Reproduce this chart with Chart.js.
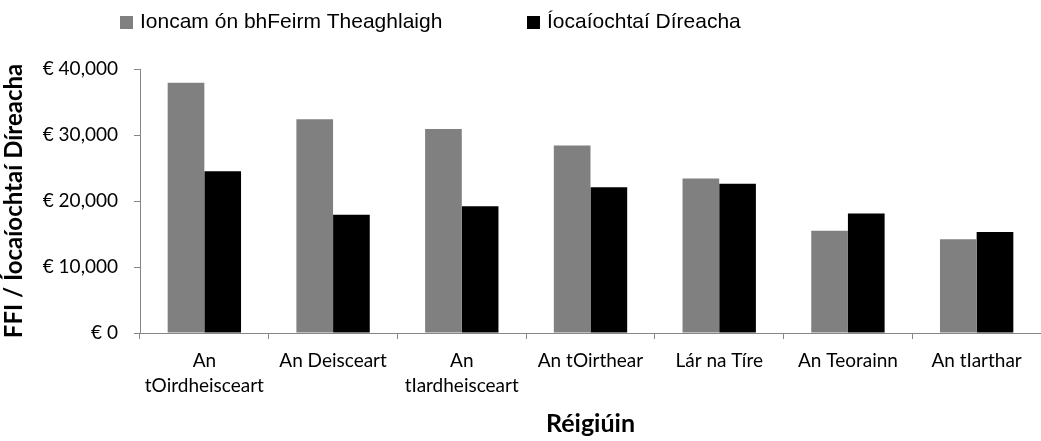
<!DOCTYPE html>
<html>
<head>
<meta charset="utf-8">
<script src="https://cdn.jsdelivr.net/npm/chart.js"></script>
<style>
  html, body { margin: 0; padding: 0; background: #fff; }
</style>
</head>
<body>
<canvas id="chart" width="1041" height="441"></canvas>
<script>
var regions = [['An', 'tOirdheisceart'], 'An Deisceart', ['An', 'tIardheisceart'], 'An tOirthear', 'Lár na Tíre', 'An Teorainn', 'An tIarthar'];
var ffi = [37900, 32400, 30900, 28400, 23400, 15500, 14200];
var directPayments = [24500, 17900, 19200, 22100, 22600, 18100, 15300];
var seriesNames = ['Ioncam ón bhFeirm Theaghlaigh', 'Íocaíochtaí Díreacha'];
var yTicks = [0, 10000, 20000, 30000, 40000];

var axisColor = '#868686';
var labelFont = { family: 'Lato', size: 19, lineHeight: 1.3 };

// legend drawn by hand so it can sit left of centre like the original
var topLegend = {
    id: 'topLegend',
    afterDraw: function (chart) {
        var ctx = chart.ctx;
        var xs = [120, 527];
        ctx.save();
        ctx.font = '21px "Liberation Sans"';
        ctx.textBaseline = 'middle';
        chart.data.datasets.forEach(function (ds, i) {
            ctx.fillStyle = ds.backgroundColor;
            ctx.fillRect(xs[i], 16, 13, 13);
            ctx.fillStyle = '#000';
            ctx.fillText(ds.label, xs[i] + 20, 22);
        });
        ctx.restore();
    }
};

new Chart(document.getElementById('chart').getContext('2d'), {
    type: 'bar',
    data: {
        labels: regions,
        datasets: [
            { label: seriesNames[0], data: ffi, backgroundColor: '#808080' },
            { label: seriesNames[1], data: directPayments, backgroundColor: '#000000' }
        ]
    },
    options: {
        responsive: false,
        devicePixelRatio: 1,
        animation: false,
        layout: { padding: { top: 69, right: -6, left: 0, bottom: 0 } },
        datasets: { bar: { categoryPercentage: 0.57, barPercentage: 1 } },
        plugins: {
            legend: { display: false },
            tooltip: { enabled: false }
        },
        scales: {
            x: {
                grid: { offset: true, drawOnChartArea: false, drawTicks: true, tickLength: 6, color: axisColor },
                border: { color: axisColor, width: 1 },
                ticks: { color: '#000', font: labelFont, padding: 10, maxRotation: 0, autoSkip: false },
                title: { display: true, text: 'Réigiúin', color: '#000', font: { family: 'Lato', size: 25, weight: 'bold', lineHeight: 1.2 }, padding: { top: 0, bottom: 2 } },
                afterFit: function (s) { s.height = 108; }
            },
            y: {
                min: 0,
                max: 40000,
                afterBuildTicks: function (s) { s.ticks = yTicks.map(function (v) { return { value: v }; }); },
                grid: { drawOnChartArea: false, drawTicks: true, tickLength: 6, color: axisColor },
                border: { color: axisColor, width: 1 },
                ticks: {
                    color: '#000', font: labelFont, padding: 16,
                    callback: function (v) { return '€ ' + v.toLocaleString('en-US'); }
                },
                title: { display: true, text: 'FFI / Íocaíochtaí Díreacha', color: '#000', font: { family: 'Lato', size: 24, weight: 'bold', lineHeight: 1 }, padding: { top: 2, bottom: 0 } },
                afterFit: function (s) { s.width = 140; }
            }
        }
    },
    plugins: [topLegend]
});
</script>
</body>
</html>
